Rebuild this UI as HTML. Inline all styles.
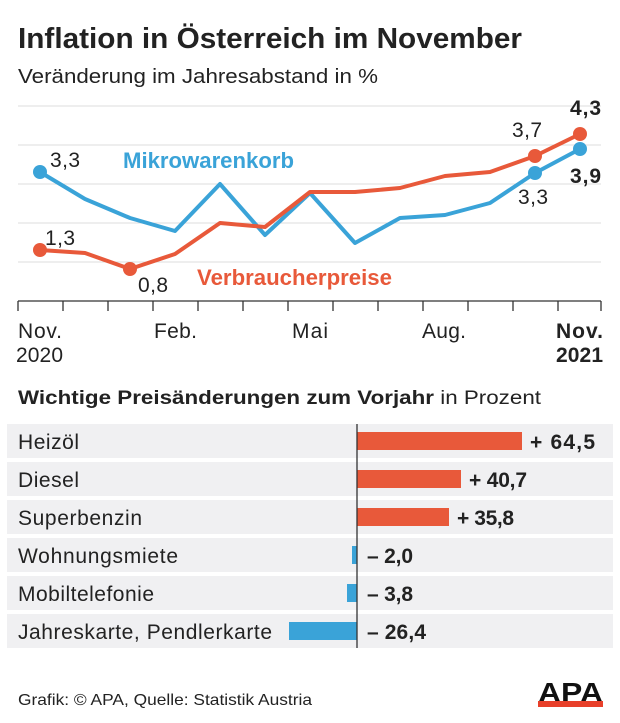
<!DOCTYPE html>
<html><head><meta charset="utf-8"><style>
body{margin:0;background:#fff;width:620px;height:718px;overflow:hidden;font-family:"Liberation Sans",sans-serif}
</style></head><body>
<svg width="620" height="718" xmlns="http://www.w3.org/2000/svg" font-family="Liberation Sans, sans-serif">
<text x="18" y="48" font-size="29" font-weight="bold" fill="#222" textLength="504" lengthAdjust="spacingAndGlyphs">Inflation in Österreich im November</text>
<text x="18" y="83" font-size="20" fill="#222" textLength="360" lengthAdjust="spacingAndGlyphs">Veränderung im Jahresabstand in %</text>
<g stroke="#ddd" stroke-width="1">
<line x1="18" x2="601" y1="106" y2="106"/><line x1="18" x2="601" y1="145" y2="145"/>
<line x1="18" x2="601" y1="184" y2="184"/><line x1="18" x2="601" y1="223" y2="223"/>
<line x1="18" x2="601" y1="262" y2="262"/></g>
<g stroke="#333" stroke-width="1.3">
<line x1="18" x2="601" y1="301" y2="301"/>
<line x1="18" x2="18" y1="301" y2="311"/><line x1="63" x2="63" y1="301" y2="311"/><line x1="108" x2="108" y1="301" y2="311"/><line x1="153" x2="153" y1="301" y2="311"/><line x1="198" x2="198" y1="301" y2="311"/><line x1="243" x2="243" y1="301" y2="311"/><line x1="288" x2="288" y1="301" y2="311"/><line x1="333" x2="333" y1="301" y2="311"/><line x1="378" x2="378" y1="301" y2="311"/><line x1="423" x2="423" y1="301" y2="311"/><line x1="468" x2="468" y1="301" y2="311"/><line x1="513" x2="513" y1="301" y2="311"/><line x1="558" x2="558" y1="301" y2="311"/><line x1="601" x2="601" y1="301" y2="311"/>
</g>
<polyline fill="none" stroke="#3aa3d8" stroke-width="4" stroke-linejoin="round" points="40,172 85,199 130,218 175,231 220,184 265,235 310,193 355,243 400,218 445,215 490,203 535,173 580,149"/>
<polyline fill="none" stroke="#e8593a" stroke-width="4" stroke-linejoin="round" points="40,250 85,253 130,269 175,254 220,223 265,227 310,192 355,192 400,188 445,176 490,172 535,156 580,134"/>
<g fill="#3aa3d8"><circle cx="40" cy="172" r="7"/><circle cx="535" cy="173" r="7"/><circle cx="580" cy="149" r="7"/></g>
<g fill="#e8593a"><circle cx="40" cy="250" r="7"/><circle cx="130" cy="269" r="7"/><circle cx="535" cy="156" r="7"/><circle cx="580" cy="134" r="7"/></g>
<g font-size="21" fill="#222" lengthAdjust="spacingAndGlyphs">
<text x="50" y="167" textLength="30">3,3</text><text x="45" y="245" textLength="30">1,3</text><text x="138" y="292" textLength="30">0,8</text>
<text x="512" y="137" textLength="30">3,7</text><text x="518" y="204" textLength="30">3,3</text>
<text x="570" y="115" font-weight="bold" textLength="31">4,3</text><text x="570" y="183" font-weight="bold" textLength="31">3,9</text>
</g>
<text x="123" y="168" font-size="22" font-weight="bold" fill="#3aa3d8" textLength="171" lengthAdjust="spacingAndGlyphs">Mikrowarenkorb</text>
<text x="197" y="285" font-size="22" font-weight="bold" fill="#e8593a" textLength="195" lengthAdjust="spacingAndGlyphs">Verbraucherpreise</text>
<g font-size="21" fill="#222" lengthAdjust="spacingAndGlyphs">
<text x="18" y="338" textLength="44">Nov.</text><text x="16" y="362" textLength="47">2020</text>
<text x="154" y="338" textLength="43">Feb.</text><text x="292" y="338" textLength="36">Mai</text><text x="422" y="338" textLength="44">Aug.</text>
<text x="556" y="338" font-weight="bold" textLength="47">Nov.</text><text x="556" y="362" font-weight="bold" textLength="47">2021</text>
</g>
<text x="18" y="404" font-size="19" fill="#222" textLength="523" lengthAdjust="spacingAndGlyphs"><tspan font-weight="bold">Wichtige Preisänderungen zum Vorjahr</tspan> in Prozent</text>
<g fill="#f0f0f2">
<rect x="7" y="424" width="606" height="34"/><rect x="7" y="462" width="606" height="34"/><rect x="7" y="500" width="606" height="34"/>
<rect x="7" y="538" width="606" height="34"/><rect x="7" y="576" width="606" height="34"/><rect x="7" y="614" width="606" height="34"/>
</g>
<g font-size="21" fill="#222" lengthAdjust="spacingAndGlyphs">
<text x="18" y="449" textLength="61">Heizöl</text><text x="18" y="487" textLength="61">Diesel</text><text x="18" y="525" textLength="124">Superbenzin</text>
<text x="18" y="563" textLength="160">Wohnungsmiete</text><text x="18" y="601" textLength="136">Mobiltelefonie</text><text x="18" y="639" textLength="254">Jahreskarte, Pendlerkarte</text>
</g>
<g fill="#e8593a"><rect x="357" y="432" width="165" height="18"/><rect x="357" y="470" width="104" height="18"/><rect x="357" y="508" width="92" height="18"/></g>
<g fill="#3aa3d8"><rect x="352" y="546" width="5" height="18"/><rect x="347" y="584" width="10" height="18"/><rect x="289" y="622" width="68" height="18"/></g>
<line x1="357" x2="357" y1="424" y2="648" stroke="#333" stroke-width="1.3"/>
<g font-size="21" font-weight="bold" fill="#222" lengthAdjust="spacingAndGlyphs">
<text x="530" y="449" textLength="65">+ 64,5</text><text x="469" y="487" textLength="58">+ 40,7</text><text x="457" y="525" textLength="57">+ 35,8</text>
<text x="367" y="563" textLength="46">– 2,0</text><text x="367" y="601" textLength="46">– 3,8</text><text x="367" y="639" textLength="59">– 26,4</text>
</g>
<text x="18" y="705" font-size="16" fill="#222" textLength="294" lengthAdjust="spacingAndGlyphs">Grafik: © APA, Quelle: Statistik Austria</text>
<text x="538" y="702" font-size="28" font-weight="900" fill="#111" textLength="65" lengthAdjust="spacingAndGlyphs">APA</text>
<rect x="538" y="701" width="65" height="6" fill="#e8402a"/>
</svg>
</body></html>
